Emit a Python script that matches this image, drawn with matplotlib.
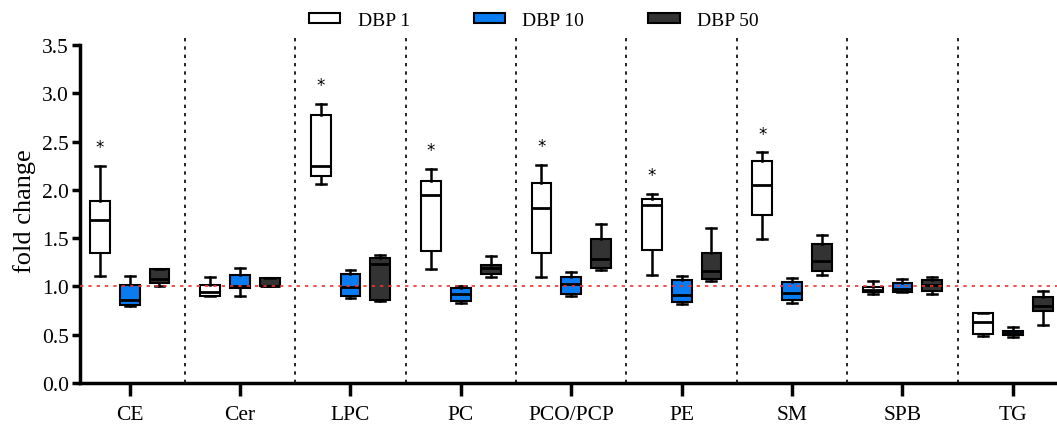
import matplotlib
matplotlib.use("Agg")
import matplotlib.pyplot as plt
from matplotlib.patches import Patch

plt.rcParams['font.family'] = ['Liberation Serif', 'DejaVu Serif']

categories = ['CE', 'Cer', 'LPC', 'PC', 'PCO/PCP', 'PE', 'SM', 'SPB', 'TG']
series = ['DBP 1', 'DBP 10', 'DBP 50']
colors = ['white', '#0a7cf2', '#333333']

# box stats per series: whislo, q1, med, q3, whishi
dbp1_lo = [1.11, 0.90, 2.06, 1.18, 1.10, 1.12, 1.49, 0.92, 0.49]
dbp1_q1 = [1.35, 0.90, 2.14, 1.37, 1.35, 1.38, 1.74, 0.94, 0.51]
dbp1_med = [1.69, 0.94, 2.25, 1.95, 1.81, 1.84, 2.05, 0.96, 0.63]
dbp1_q3 = [1.88, 1.01, 2.78, 2.09, 2.07, 1.90, 2.30, 0.99, 0.72]
dbp1_hi = [2.25, 1.10, 2.89, 2.22, 2.26, 1.96, 2.39, 1.05, 0.72]

dbp10_lo = [0.80, 0.90, 0.88, 0.83, 0.90, 0.82, 0.83, 0.94, 0.47]
dbp10_q1 = [0.81, 0.98, 0.90, 0.85, 0.92, 0.84, 0.86, 0.94, 0.50]
dbp10_med = [0.86, 1.00, 0.99, 0.92, 1.02, 0.91, 0.93, 0.97, 0.52]
dbp10_q3 = [1.01, 1.12, 1.13, 0.98, 1.10, 1.06, 1.04, 1.03, 0.54]
dbp10_hi = [1.11, 1.19, 1.17, 1.00, 1.15, 1.11, 1.09, 1.08, 0.58]

dbp50_lo = [1.00, 1.00, 0.85, 1.10, 1.17, 1.05, 1.12, 0.92, 0.60]
dbp50_q1 = [1.03, 1.00, 0.86, 1.13, 1.19, 1.08, 1.16, 0.95, 0.74]
dbp50_med = [1.08, 1.00, 1.23, 1.19, 1.28, 1.16, 1.26, 1.01, 0.80]
dbp50_q3 = [1.18, 1.09, 1.29, 1.22, 1.49, 1.35, 1.44, 1.07, 0.89]
dbp50_hi = [1.18, 1.09, 1.32, 1.31, 1.65, 1.60, 1.53, 1.10, 0.95]

# groups where DBP 1 is significant
significant = ['CE', 'LPC', 'PC', 'PCO/PCP', 'PE', 'SM']

all_stats = [
    (dbp1_lo, dbp1_q1, dbp1_med, dbp1_q3, dbp1_hi),
    (dbp10_lo, dbp10_q1, dbp10_med, dbp10_q3, dbp10_hi),
    (dbp50_lo, dbp50_q1, dbp50_med, dbp50_q3, dbp50_hi),
]

fig = plt.figure(figsize=(10.57, 4.27), dpi=100)
ax = fig.add_axes([0.0757, 0.1012, 0.9243, 0.8068])

offsets = [-0.27, 0.0, 0.27]
for s, (lo, q1, med, q3, hi) in enumerate(all_stats):
    stats = []
    for i in range(len(categories)):
        stats.append({'whislo': lo[i], 'q1': q1[i], 'med': med[i],
                      'q3': q3[i], 'whishi': hi[i], 'fliers': []})
    pos = [i + offsets[s] for i in range(len(categories))]
    ax.bxp(stats, positions=pos, widths=0.18, capwidths=0.09,
           showfliers=False, patch_artist=True,
           boxprops=dict(facecolor=colors[s], edgecolor='black', linewidth=1.5),
           medianprops=dict(color='black', linewidth=2),
           whiskerprops=dict(color='black', linewidth=1.8),
           capprops=dict(color='black', linewidth=1.8))

for i, c in enumerate(categories):
    if c in significant:
        ax.text(i + offsets[0], dbp1_hi[i] + 0.1, '*', ha='center', va='bottom',
                fontsize=12, family='DejaVu Sans')

for i in range(len(categories) - 1):
    ax.axvline(i + 0.5, color='black', linestyle=(0, (2, 3)), linewidth=1.2)

ax.axhline(1.0, color='#ee3333', linestyle=(0, (2, 3)), linewidth=1.2, zorder=5)

ax.set_xlim(-0.45, 8.4)
ax.set_ylim(0, 3.57)
ax.set_yticks([0, 0.5, 1.0, 1.5, 2.0, 2.5, 3.0, 3.5])
ax.set_yticklabels(['%.1f' % v for v in ax.get_yticks()])
ax.set_xticks(range(len(categories)))
ax.set_xticklabels(categories)
ax.spines['top'].set_visible(False)
ax.spines['right'].set_visible(False)
ax.spines['left'].set_linewidth(2.5)
ax.spines['bottom'].set_linewidth(2.5)
ax.spines['left'].set_bounds(0, 3.5)
ax.tick_params(axis='y', labelsize=15.5, width=2.5, length=6, pad=2)
ax.tick_params(axis='x', labelsize=15.5, width=2.5, length=9, pad=7)
ax.set_ylabel('fold change', fontsize=19, labelpad=4)

handles = [Patch(facecolor=colors[k], edgecolor='black', linewidth=1.5) for k in range(3)]
fig.legend(handles, series, loc='upper center', bbox_to_anchor=(0.505, 1.01), ncol=3,
           frameon=False, fontsize=14, handlelength=1.6, handleheight=0.4,
           handletextpad=0.9, columnspacing=3.3)

fig.savefig('out.png', dpi=100)
